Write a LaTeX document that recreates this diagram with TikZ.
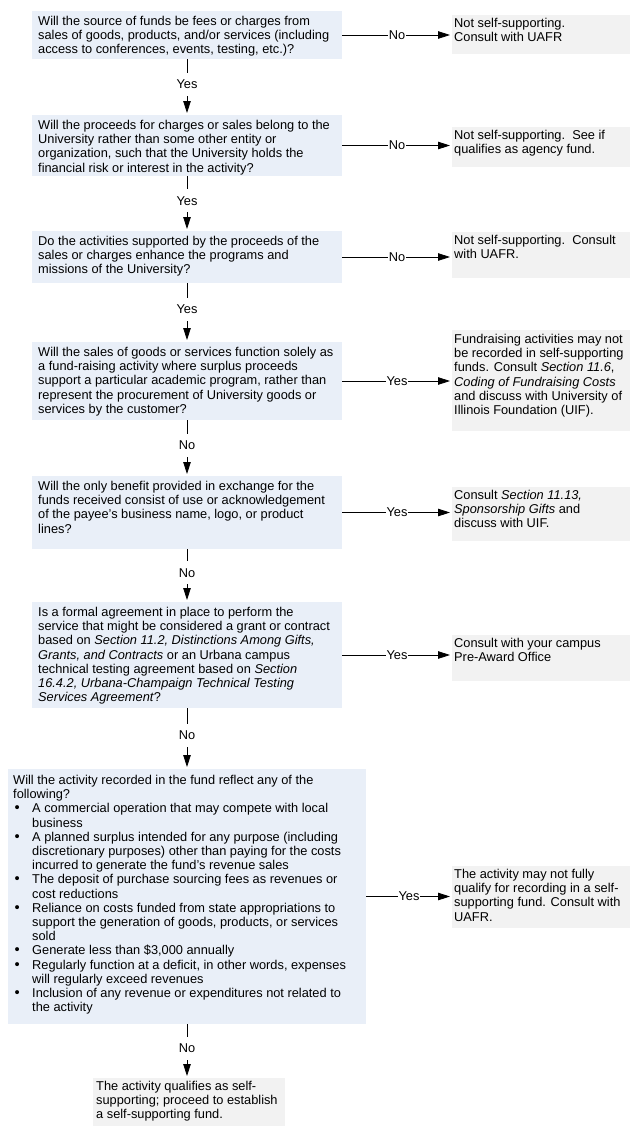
\documentclass[tikz,border=0pt]{standalone}
\usepackage{fontspec}
\setmainfont{Liberation Sans}
\usetikzlibrary{arrows.meta,calc}
\definecolor{qblue}{RGB}{233,239,248}
\definecolor{rgray}{RGB}{242,242,242}
\newcommand{\myfs}{\fontsize{12.8}{14.2}\selectfont}
\newcommand{\mybul}{\makebox[19pt][l]{\hspace{1.5pt}\scalebox{1.15}{\textbullet}}}
\newcommand{\myind}{\hspace*{19pt}}
\begin{document}
\begin{tikzpicture}[x=1pt,y=-1pt,
  qbox/.style={fill=qblue, draw=none, inner sep=0pt, outer sep=0pt, anchor=north west},
  rbox/.style={fill=rgray, draw=none, inner sep=0pt, outer sep=0pt, anchor=north west},
  txt/.style={anchor=north west, inner sep=0pt, align=left, font=\myfs},
  lbl/.style={fill=white, inner xsep=1pt, inner ysep=7pt, font=\myfs},
  arr/.style={-{Triangle[length=12pt,width=7.5pt]}, line width=0.8pt, shorten >=2pt}]
\useasboundingbox (0,0) rectangle (637,1136);
\fill[white] (0,0) rectangle (637,1136);

% question boxes
\node[qbox, minimum width=310pt, minimum height=48pt] (q1) at (32,11) {};
\node[qbox, minimum width=310pt, minimum height=61pt] (q2) at (32,115) {};
\node[qbox, minimum width=310pt, minimum height=52pt] (q3) at (32,231) {};
\node[qbox, minimum width=310pt, minimum height=78pt] (q4) at (32,342) {};
\node[qbox, minimum width=310pt, minimum height=73pt] (q5) at (32,476) {};
\node[qbox, minimum width=310pt, minimum height=106pt] (q6) at (32,602) {};
\node[qbox, minimum width=358pt, minimum height=255pt] (q7) at (8,769) {};
\node[rbox, minimum width=192pt, minimum height=48pt] (fin) at (93,1078) {};

% result boxes
\node[rbox, minimum width=178pt, minimum height=39pt] (r1) at (452,15) {};
\node[rbox, minimum width=178pt, minimum height=40pt] (r2) at (452,127) {};
\node[rbox, minimum width=178pt, minimum height=46pt] (r3) at (452,232) {};
\node[rbox, minimum width=178pt, minimum height=101pt] (r4) at (452,330) {};
\node[rbox, minimum width=178pt, minimum height=54pt] (r5) at (452,487) {};
\node[rbox, minimum width=178pt, minimum height=46pt] (r6) at (452,635) {};
\node[rbox, minimum width=178pt, minimum height=62pt] (r7) at (452,866) {};

% texts
\node[txt] (q1t) at ([shift={(6,5)}]q1.north west) {Will the source of funds be fees or charges from\\sales of goods, products, and/or services (including\\access to conferences, events, testing, etc.)?};
\node[txt] (q2t) at ([shift={(6,5)}]q2.north west) {Will the proceeds for charges or sales belong to the\\University rather than some other entity or\\organization, such that the University holds the\\financial risk or interest in the activity?};
\node[txt] (q3t) at ([shift={(6,5)}]q3.north west) {Do the activities supported by the proceeds of the\\sales or charges enhance the programs and\\missions of the University?};
\node[txt] (q4t) at ([shift={(6,5)}]q4.north west) {Will the sales of goods or services function solely as\\a fund-raising activity where surplus proceeds\\support a particular academic program, rather than\\represent the procurement of University goods or\\services by the customer?};
\node[txt] (q5t) at ([shift={(6,5)}]q5.north west) {Will the only benefit provided in exchange for the\\funds received consist of use or acknowledgement\\of the payee's business name, logo, or product\\lines?};
\node[txt] (q6t) at ([shift={(6,5)}]q6.north west) {Is a formal agreement in place to perform the\\service that might be considered a grant or contract\\based on \textit{Section 11.2, Distinctions Among Gifts,}\\\textit{Grants, and Contracts} or an Urbana campus\\technical testing agreement based on \textit{Section}\\\textit{16.4.2, Urbana-Champaign Technical Testing}\\\textit{Services Agreement}?};
\node[txt] (q7t) at ([shift={(5,6)}]q7.north west) {Will the activity recorded in the fund reflect any of the\\following?\\
\mybul A commercial operation that may compete with local\\\myind business\\
\mybul A planned surplus intended for any purpose (including\\\myind discretionary purposes) other than paying for the costs\\\myind incurred to generate the fund's revenue sales\\
\mybul The deposit of purchase sourcing fees as revenues or\\\myind cost reductions\\
\mybul Reliance on costs funded from state appropriations to\\\myind support the generation of goods, products, or services\\\myind sold\\
\mybul Generate less than \$3,000 annually\\
\mybul Regularly function at a deficit, in other words, expenses\\\myind will regularly exceed revenues\\
\mybul Inclusion of any revenue or expenditures not related to\\\myind the activity};
\node[txt] (fint) at ([shift={(3,3)}]fin.north west) {The activity qualifies as self-\\supporting; proceed to establish\\a self-supporting fund.};

\node[txt] (r1t) at ([shift={(2,3)}]r1.north west) {Not self-supporting.\\Consult with UAFR};
\node[txt] (r2t) at ([shift={(2,3)}]r2.north west) {Not self-supporting.\ \ See if\\qualifies as agency fund.};
\node[txt] (r3t) at ([shift={(2,3)}]r3.north west) {Not self-supporting.\ \ Consult\\with UAFR.};
\node[txt] (r4t) at ([shift={(2,4)}]r4.north west) {Fundraising activities may not\\be recorded in self-supporting\\funds. Consult \textit{Section 11.6},\\\textit{Coding of Fundraising Costs}\\and discuss with University of\\Illinois Foundation (UIF).};
\node[txt] (r5t) at ([shift={(2,3)}]r5.north west) {Consult \textit{Section 11.13,}\\\textit{Sponsorship Gifts} and\\discuss with UIF.};
\node[txt] (r6t) at ([shift={(2,3)}]r6.north west) {Consult with your campus\\Pre-Award Office};
\node[txt] (r7t) at ([shift={(2,3)}]r7.north west) {The activity may not fully\\qualify for recording in a self-\\supporting fund. Consult with\\UAFR.};

% vertical connectors
\draw[arr] (q1.south) -- node[lbl, pos=0.45] (y1) {Yes} (q2.north);
\draw[arr] (q2.south) -- node[lbl, pos=0.45] (y2) {Yes} (q3.north);
\draw[arr] (q3.south) -- node[lbl, pos=0.45] (y3) {Yes} (q4.north);
\draw[arr] (q4.south) -- node[lbl, pos=0.45] (n4) {No} (q5.north);
\draw[arr] (q5.south) -- node[lbl, pos=0.45] (n5) {No} (q6.north);
\draw[arr] (q6.south) -- node[lbl, pos=0.45] (n6) {No} (q7.north);
\draw[arr] (q7.south) -- node[lbl, pos=0.45] (n7) {No} (q7.south |- fin.north);

% horizontal connectors
\draw[arr] (q1.east) -- node[lbl] (h1) {No} (q1.east -| r1.west);
\draw[arr] (q2.east) -- node[lbl] (h2) {No} (q2.east -| r2.west);
\draw[arr] (q3.east) -- node[lbl] (h3) {No} (q3.east -| r3.west);
\draw[arr] (q4.east) -- node[lbl] (h4) {Yes} (q4.east -| r4.west);
\draw[arr] (q5.east) -- node[lbl] (h5) {Yes} (q5.east -| r5.west);
\draw[arr] (q6.east) -- node[lbl] (h6) {Yes} (q6.east -| r6.west);
\draw[arr] (q7.east) -- node[lbl] (h7) {Yes} (q7.east -| r7.west);
\end{tikzpicture}
\end{document}
